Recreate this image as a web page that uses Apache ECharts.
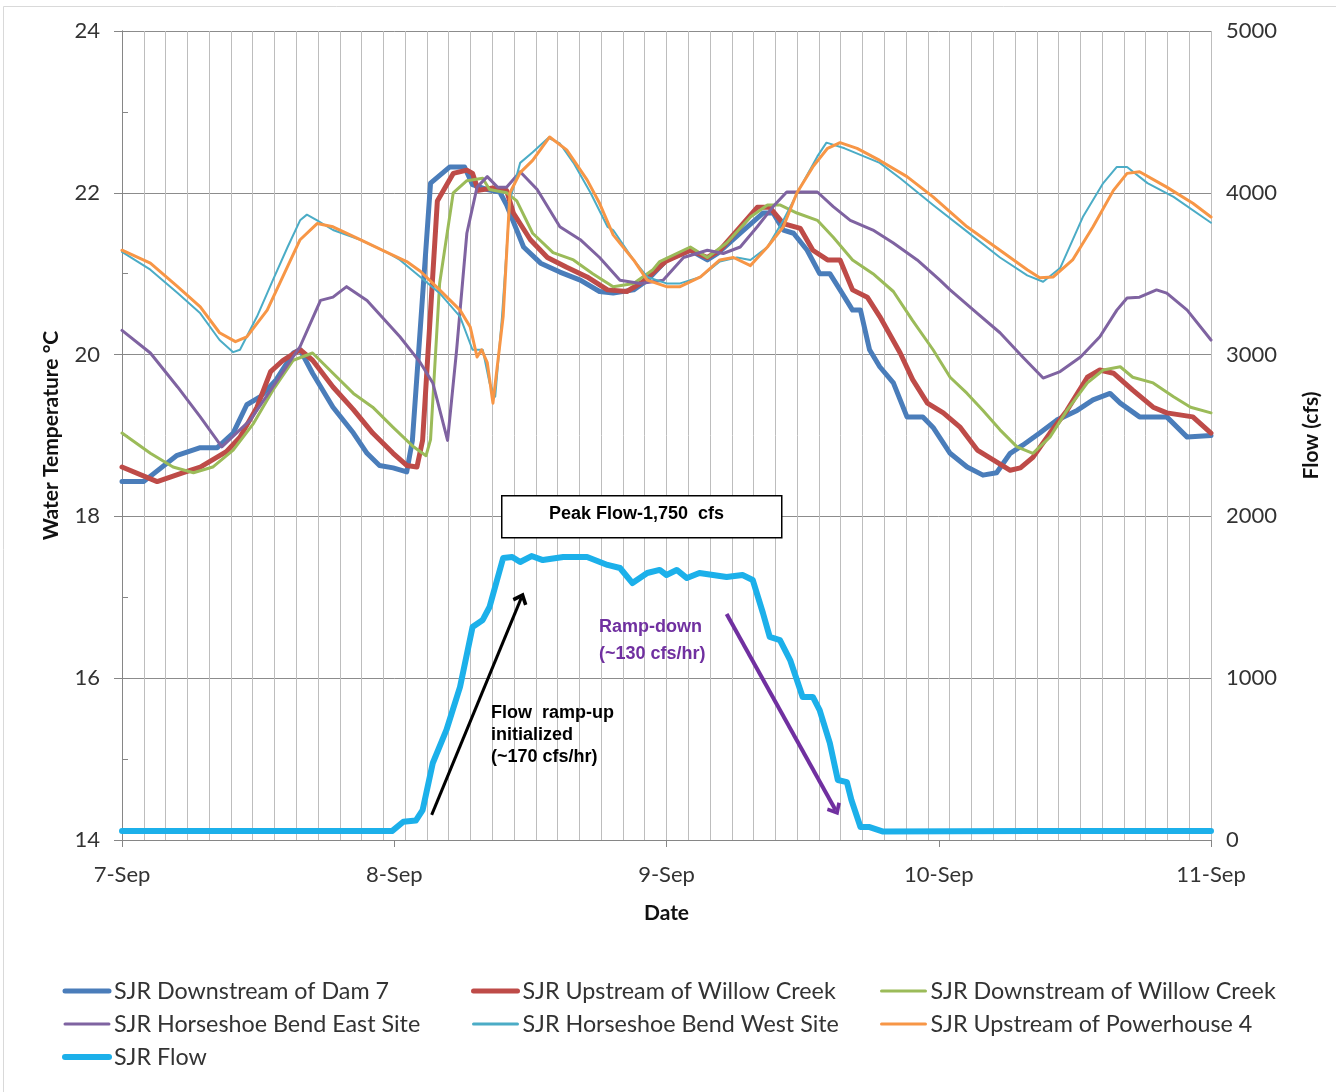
<!DOCTYPE html>
<html><head><meta charset="utf-8">
<script src="https://cdn.jsdelivr.net/npm/echarts@6/dist/echarts.min.js"></script>
<style>html,body{margin:0;padding:0;background:#fff}#c{width:1336px;height:1092px}</style>
</head><body><div id="c"></div>
<script>
// x values are hours since 7-Sep 00:00
const dayLabels = ['7-Sep', '8-Sep', '9-Sep', '10-Sep', '11-Sep'];
const seriesNames = ['SJR Downstream of Dam 7', 'SJR Upstream of Willow Creek', 'SJR Downstream of Willow Creek',
  'SJR Horseshoe Bend East Site', 'SJR Horseshoe Bend West Site', 'SJR Upstream of Powerhouse 4', 'SJR Flow'];

const dam7 = [[0,18.43],[1.9,18.43],[4.8,18.75],[6.9,18.85],[8.4,18.85],[9.8,19.03],[11.0,19.38],[12.2,19.48],[13.6,19.69],[15.1,20.02],[15.7,20.06],[16.8,19.77],[18.6,19.35],[20.4,19.03],[21.6,18.78],[22.7,18.63],[23.9,18.6],[25.1,18.55],[25.6,18.94],[27.2,22.12],[28.9,22.32],[30.2,22.32],[30.9,22.1],[32.2,22.04],[33.3,22.01],[33.9,21.85],[35.4,21.33],[36.9,21.13],[38.6,21.02],[40.4,20.92],[42.1,20.78],[43.3,20.76],[45.1,20.8],[46.3,20.92],[48.0,21.17],[50.1,21.29],[51.6,21.17],[52.5,21.25],[54.5,21.5],[56.5,21.75],[57.4,21.75],[58.3,21.54],[59.2,21.5],[60.4,21.29],[61.5,21.0],[62.4,21.0],[63.3,20.8],[64.4,20.55],[65.1,20.55],[65.9,20.06],[66.8,19.85],[68.0,19.65],[69.2,19.23],[70.6,19.23],[71.5,19.1],[73.0,18.78],[74.5,18.61],[75.9,18.51],[77.1,18.54],[78.3,18.78],[79.4,18.88],[80.9,19.03],[82.4,19.19],[84.2,19.31],[85.6,19.44],[87.1,19.52],[88.0,19.4],[89.7,19.23],[92.1,19.23],[93.9,18.98],[96,19.0]];

const upWillow = [[0,18.61],[3.1,18.43],[5.4,18.54],[6.9,18.61],[9.2,18.8],[10.4,18.98],[11.9,19.35],[13.1,19.79],[14.2,19.93],[15.7,20.06],[16.8,19.93],[18.6,19.6],[20.4,19.32],[22.1,19.03],[23.9,18.78],[25.1,18.63],[26.0,18.61],[26.5,18.94],[27.8,21.9],[29.2,22.24],[30.4,22.28],[30.9,22.24],[31.4,22.03],[32.7,22.06],[33.9,22.03],[34.5,21.75],[36.0,21.42],[37.5,21.2],[39.2,21.08],[41.0,20.96],[42.8,20.8],[44.5,20.78],[45.9,20.9],[47.9,21.15],[50.1,21.29],[51.6,21.2],[52.7,21.29],[54.5,21.58],[56.0,21.82],[57.1,21.82],[58.3,21.62],[59.8,21.56],[60.9,21.29],[62.2,21.17],[63.3,21.17],[64.4,20.8],[65.7,20.71],[66.8,20.47],[68.6,20.02],[69.7,19.69],[71.0,19.4],[72.4,19.28],[73.9,19.1],[75.4,18.82],[76.8,18.7],[78.3,18.57],[79.2,18.6],[80.3,18.73],[81.8,19.03],[83.3,19.31],[85.1,19.72],[86.2,19.81],[87.4,19.77],[89.1,19.56],[90.9,19.35],[92.1,19.28],[94.4,19.23],[96,19.03]];

const downWillow = [[0,19.03],[2.5,18.78],[4.5,18.61],[6.3,18.54],[8.0,18.61],[9.8,18.82],[11.6,19.15],[13.3,19.56],[15.1,19.93],[16.8,20.02],[18.6,19.77],[20.4,19.52],[22.1,19.35],[23.9,19.1],[25.7,18.86],[26.8,18.75],[27.2,18.95],[28.0,20.88],[29.2,22.0],[30.4,22.15],[31.8,22.18],[32.4,22.04],[33.9,22.0],[34.8,21.9],[36.2,21.5],[38.0,21.26],[39.8,21.17],[41.5,21.0],[43.3,20.84],[45.1,20.88],[46.8,21.05],[47.4,21.15],[50.1,21.33],[51.6,21.2],[53.3,21.38],[55.4,21.7],[56.9,21.85],[58.0,21.85],[59.5,21.75],[61.3,21.66],[62.7,21.45],[64.4,21.17],[66.2,21.0],[68.0,20.78],[69.7,20.42],[71.5,20.06],[73.0,19.72],[74.5,19.52],[75.9,19.31],[77.4,19.07],[78.9,18.86],[80.3,18.78],[81.8,18.98],[83.3,19.31],[85.1,19.65],[86.5,19.81],[88.0,19.85],[89.1,19.72],[90.9,19.65],[92.7,19.48],[94.2,19.35],[96,19.28]];

const hbEast = [[0,20.3],[2.5,20.02],[4.9,19.6],[6.9,19.23],[8.8,18.86],[11.3,19.19],[13.3,19.6],[15.7,20.1],[17.5,20.67],[18.6,20.71],[19.8,20.84],[21.6,20.67],[23.4,20.39],[24.5,20.22],[26.3,19.9],[27.4,19.65],[28.7,18.94],[29.5,20.06],[30.4,21.5],[31.3,22.07],[32.2,22.2],[33.1,22.07],[33.9,22.07],[35.1,22.26],[36.6,22.04],[38.6,21.58],[40.4,21.42],[42.1,21.2],[43.9,20.92],[45.7,20.88],[47.7,20.92],[49.5,21.2],[51.6,21.29],[53.0,21.25],[54.5,21.33],[56.0,21.58],[57.4,21.83],[58.6,22.01],[61.3,22.01],[62.7,21.83],[64.2,21.66],[66.2,21.54],[68.0,21.38],[70.1,21.17],[72.1,20.92],[73.0,20.8],[75.4,20.51],[77.4,20.27],[79.4,19.97],[81.2,19.71],[82.7,19.79],[84.5,19.97],[86.2,20.22],[87.7,20.55],[88.6,20.7],[89.7,20.71],[91.2,20.8],[92.1,20.76],[93.9,20.55],[96,20.18]];

const hbWest = [[0,21.27],[2.5,21.05],[4.9,20.76],[6.9,20.51],[8.6,20.18],[9.8,20.03],[10.4,20.06],[11.9,20.47],[13.3,20.92],[14.6,21.33],[15.7,21.66],[16.3,21.73],[17.2,21.66],[18.6,21.54],[21.0,21.42],[23.4,21.26],[24.5,21.17],[26.3,20.96],[28.0,20.76],[29.8,20.47],[30.9,20.06],[31.8,20.06],[32.4,19.65],[32.9,19.48],[33.5,20.47],[34.2,21.91],[35.1,22.37],[36.2,22.5],[37.6,22.68],[38.6,22.61],[39.8,22.37],[41.3,22.0],[42.8,21.58],[43.3,21.54],[45.1,21.17],[46.3,20.96],[48.0,20.88],[49.2,20.88],[51.0,20.96],[52.7,21.15],[54.2,21.2],[55.4,21.17],[56.9,21.33],[58.3,21.66],[59.8,22.07],[61.3,22.45],[62.1,22.62],[63.7,22.55],[66.8,22.37],[68.6,22.18],[71.5,21.85],[74.5,21.52],[77.4,21.2],[79.8,20.98],[81.2,20.9],[82.7,21.07],[84.7,21.7],[86.5,22.12],[87.7,22.32],[88.6,22.32],[90.4,22.12],[92.7,21.95],[96,21.63]];

const powerhouse = [[0,21.29],[2.5,21.13],[4.9,20.84],[6.9,20.59],[8.6,20.27],[10.0,20.16],[11.0,20.22],[12.8,20.55],[14.6,21.09],[15.7,21.42],[17.2,21.62],[18.6,21.58],[21.0,21.42],[23.4,21.26],[25.1,21.15],[26.3,21.03],[28.0,20.8],[29.8,20.55],[30.7,20.34],[31.3,19.97],[31.7,20.06],[32.2,19.9],[32.7,19.4],[33.6,20.47],[34.2,22.0],[35.1,22.25],[36.2,22.4],[37.7,22.69],[39.2,22.53],[41.0,22.16],[42.1,21.87],[43.3,21.48],[45.1,21.17],[46.3,20.92],[48.0,20.84],[49.2,20.84],[51.0,20.96],[52.7,21.17],[53.9,21.2],[55.4,21.1],[56.9,21.33],[58.3,21.58],[59.5,22.0],[60.9,22.32],[62.2,22.55],[63.3,22.62],[64.8,22.55],[66.8,22.4],[69.2,22.2],[71.5,21.95],[74.5,21.58],[77.4,21.29],[79.8,21.05],[80.9,20.95],[82.1,20.96],[83.8,21.17],[85.6,21.58],[87.4,22.03],[88.6,22.24],[89.7,22.26],[92.1,22.07],[94.4,21.87],[96,21.7]];

const flow = [[0,55],[23.8,55],[24.8,113],[25.9,120],[26.5,185],[27.4,476],[28.6,680],[29.8,946],[30.9,1316],[31.8,1360],[32.4,1440],[33.6,1743],[34.4,1749],[35.1,1718],[36.1,1755],[37.1,1730],[38.9,1749],[41.0,1749],[42.8,1700],[43.9,1681],[45.0,1588],[46.3,1650],[47.4,1669],[48.0,1638],[48.9,1669],[49.8,1619],[50.9,1650],[53.3,1625],[54.7,1638],[55.6,1607],[56.5,1403],[57.1,1255],[58.0,1236],[58.9,1112],[60.0,884],[60.9,884],[61.5,803],[62.4,599],[63.1,371],[63.9,358],[64.3,247],[65.1,80],[65.9,80],[67.1,52],[80,55],[96,55]];

// annotation arrows (data space: hours, cfs)
const rampUpArrow = [[27.3, 155], [35.2, 1496]];
const rampDownArrow = [[53.3, 1397], [62.9, 185]];

const colors = ['#4a7dba', '#be4b48', '#9bbb59', '#7f63a1', '#4bacc6', '#f79646', '#1cb0ea'];
const widths = [5, 5, 3, 3, 2, 3, 6];
const legendWidths = [5, 5, 3, 3, 3, 3, 6];
const tempData = [dam7, upWillow, downWillow, hbEast, hbWest, powerhouse];

const FONT = 'Lato, "Liberation Sans", sans-serif';
const BFONT = '"Liberation Sans", Arial, sans-serif';
const chevron = 'path://M5,0 L10,5.5 L8.4,7 L5,3.4 L1.6,7 L0,5.5 Z';

const chart = echarts.init(document.getElementById('c'), null, { renderer: 'canvas' });

const series = tempData.map((d, i) => ({
  name: seriesNames[i], type: 'line', data: d, xAxisIndex: 0, yAxisIndex: 0,
  symbol: 'none', showSymbol: false,
  lineStyle: { width: widths[i], color: colors[i], cap: 'round', join: 'round' },
  itemStyle: { color: colors[i] }
}));
series.push({
  name: seriesNames[6], type: 'line', data: flow, xAxisIndex: 0, yAxisIndex: 1,
  symbol: 'none', showSymbol: false,
  lineStyle: { width: widths[6], color: colors[6], cap: 'round', join: 'round' },
  itemStyle: { color: colors[6] },
  markLine: {
    silent: true, animation: false,
    symbol: ['none', chevron], symbolSize: [16, 12],
    label: { show: false },
    data: [
      [{ coord: rampUpArrow[0], lineStyle: { color: '#000', width: 3, type: 'solid' }, itemStyle: { color: '#000' } }, { coord: rampUpArrow[1] }],
      [{ coord: rampDownArrow[0], lineStyle: { color: '#7030a0', width: 4, type: 'solid' }, itemStyle: { color: '#7030a0' } }, { coord: rampDownArrow[1] }]
    ]
  }
});

const legendItem = i => ({ name: seriesNames[i], lineStyle: { width: legendWidths[i], color: colors[i], cap: 'round' } });
const legendBase = {
  orient: 'vertical', itemWidth: 44, itemHeight: 14, itemGap: 9, padding: 0,
  itemStyle: { opacity: 0 },
  textStyle: { fontFamily: FONT, fontSize: 23.3, color: '#333', lineHeight: 24 }
};

const option = {
  animation: false,
  backgroundColor: '#fff',
  grid: { left: 122, right: 125, top: 31, bottom: 252, containLabel: false },
  legend: [
    Object.assign({}, legendBase, { left: 62, top: 979, data: [legendItem(0), legendItem(3), legendItem(6)] }),
    Object.assign({}, legendBase, { left: 471, top: 979, data: [legendItem(1), legendItem(4)] }),
    Object.assign({}, legendBase, { left: 880, top: 979, data: [legendItem(2), legendItem(5)] })
  ],
  xAxis: [
    {
      type: 'value', min: 0, max: 96, interval: 24,
      axisLine: { show: true, lineStyle: { color: '#868686', width: 1 } },
      axisTick: { show: true, length: 7, lineStyle: { color: '#868686' } },
      axisLabel: { formatter: v => dayLabels[Math.round(v / 24)], fontSize: 22, color: '#333', margin: 24, fontFamily: FONT },
      splitLine: { show: false },
      name: 'Date', nameLocation: 'middle', nameGap: 63,
      nameTextStyle: { fontFamily: FONT, fontWeight: 'bold', fontSize: 21, color: '#111' }
    },
    {
      type: 'value', min: 0, max: 96, interval: 1.92, position: 'bottom',
      axisLine: { show: false }, axisTick: { show: false }, axisLabel: { show: false },
      splitLine: { show: true, lineStyle: { color: '#bdbdbd', width: 1 } }
    }
  ],
  yAxis: [
    {
      type: 'value', min: 14, max: 24, interval: 2, position: 'left',
      axisLine: { show: true, lineStyle: { color: '#868686' } },
      axisTick: { show: true, length: 8, lineStyle: { color: '#868686' } },
      minorTick: { show: true, splitNumber: 2, length: -6, lineStyle: { color: '#868686' } },
      axisLabel: { fontSize: 22, color: '#333', margin: 22, fontFamily: FONT },
      splitLine: { show: true, lineStyle: { color: '#8c8c8c', width: 1 } },
      name: 'Water Temperature \u00B0C', nameLocation: 'middle', nameGap: 60, nameRotate: 90,
      nameTextStyle: { fontFamily: FONT, fontWeight: 'bold', fontSize: 21, color: '#111' }
    },
    {
      type: 'value', min: 0, max: 5000, interval: 1000, position: 'right',
      axisLine: { show: true, lineStyle: { color: '#868686' } },
      axisTick: { show: true, length: 8, lineStyle: { color: '#868686' } },
      axisLabel: { fontSize: 22, color: '#333', margin: 15, fontFamily: FONT, formatter: v => String(v) },
      splitLine: { show: false },
      name: 'Flow (cfs)', nameLocation: 'middle', nameGap: 90, nameRotate: 90,
      nameTextStyle: { fontFamily: FONT, fontWeight: 'bold', fontSize: 21, color: '#111' }
    }
  ],
  series: series,
  graphic: [
    { type: 'rect', left: 1, top: 4, z: -10, shape: { width: 1333, height: 1086 }, style: { fill: 'none', stroke: '#d9d9d9', lineWidth: 1 } },
    { type: 'rect', left: 501, top: 495, z: 100, shape: { width: 280, height: 42 }, style: { fill: '#fff', stroke: '#000', lineWidth: 1.5 } },
    { type: 'text', left: 549, top: 505, z: 101, style: { text: 'Peak Flow-1,750  cfs', fontFamily: BFONT, fontWeight: 'bold', fontSize: 18, fill: '#000' } },
    { type: 'text', left: 491, top: 702, z: 100, style: { text: 'Flow  ramp-up\ninitialized\n(~170 cfs/hr)', fontFamily: BFONT, fontWeight: 'bold', fontSize: 18, lineHeight: 22, fill: '#000' } },
    { type: 'text', left: 599, top: 614, z: 100, style: { text: 'Ramp-down\n(~130 cfs/hr)', fontFamily: BFONT, fontWeight: 'bold', fontSize: 18, lineHeight: 27, fill: '#7030a0' } }
  ]
};
chart.setOption(option);
</script>
</body></html>
